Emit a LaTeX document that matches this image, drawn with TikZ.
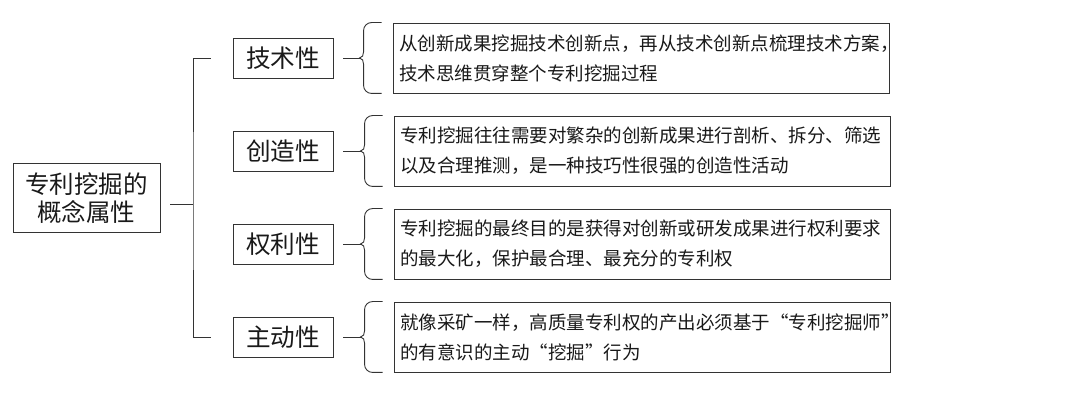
\documentclass[tikz,border=0pt]{standalone}
\usepackage{fontspec}
\newfontfamily\cjk{Noto Sans CJK SC}
\begin{document}
\begin{tikzpicture}[x=1pt,y=-1pt,
  line/.style={draw=black!80, line width=0.9pt},
  box/.style={line, rectangle, inner sep=0pt, text=black!90},
  cat/.style={box, minimum width=100pt, minimum height=40pt, font=\cjk\fontsize{24.6}{28}\selectfont},
  desc/.style={box, text width=484pt, inner xsep=6pt, minimum height=70pt, align=left, font=\cjk\fontsize{18.5}{30}\selectfont},
  rootbox/.style={box, minimum width=147pt, minimum height=69pt, align=center, font=\cjk\fontsize{24.5}{28}\selectfont}]
\useasboundingbox (0,0) rectangle (1080,395);

\node[rootbox] (root) at (86.5,198) {专利挖掘的\\概念属性};

\node[desc] (t1) at (641,58) {从创新成果挖掘技术创新点，再从技术创新点梳理技术方案，\\技术思维贯穿整个专利挖掘过程};
\node[desc] (t2) at (642,151) {专利挖掘往往需要对繁杂的创新成果进行剖析、拆分、筛选\\以及合理推测，是一种技巧性很强的创造性活动};
\node[desc] (t3) at (642,244) {专利挖掘的最终目的是获得对创新或研发成果进行权利要求\\的最大化，保护最合理、最充分的专利权};
\node[desc] (t4) at (642,337) {就像采矿一样，高质量专利权的产出必须基于“专利挖掘师”\\的有意识的主动“挖掘”行为};

\node[cat] (c1) at (283,58) {技术性};
\node[cat] (c2) at (283,151) {创造性};
\node[cat] (c3) at (283,244) {权利性};
\node[cat] (c4) at (283,337) {主动性};

% root bracket
\coordinate (j) at (193,204);
\draw[line] ([xshift=10pt,yshift=-6pt]root.east) -- (j);
\draw[line] ([xshift=-22pt]c1.west) -| (j) |- ([xshift=-22pt]c4.west);

% braces and their connectors
\foreach \i in {1,2,3,4} {
  \draw[line] ([xshift=-11pt]t\i.north west) -- ([xshift=-21pt]t\i.north west)
    to[out=180,in=90] ([xshift=-29pt,yshift=-8pt]t\i.north west)
    -- ([xshift=-29pt,yshift=6pt]t\i.west)
    to[out=-90,in=0] ([xshift=-33pt]t\i.west)
    to[out=0,in=90] ([xshift=-29pt,yshift=-6pt]t\i.west)
    -- ([xshift=-29pt,yshift=8pt]t\i.south west)
    to[out=-90,in=180] ([xshift=-21pt]t\i.south west)
    -- ([xshift=-11pt]t\i.south west);
  \coordinate (k\i) at ([xshift=-33pt]t\i.west);
  \draw[line] ([xshift=10pt]c\i.east) -- (k\i);
}
\end{tikzpicture}
\end{document}
